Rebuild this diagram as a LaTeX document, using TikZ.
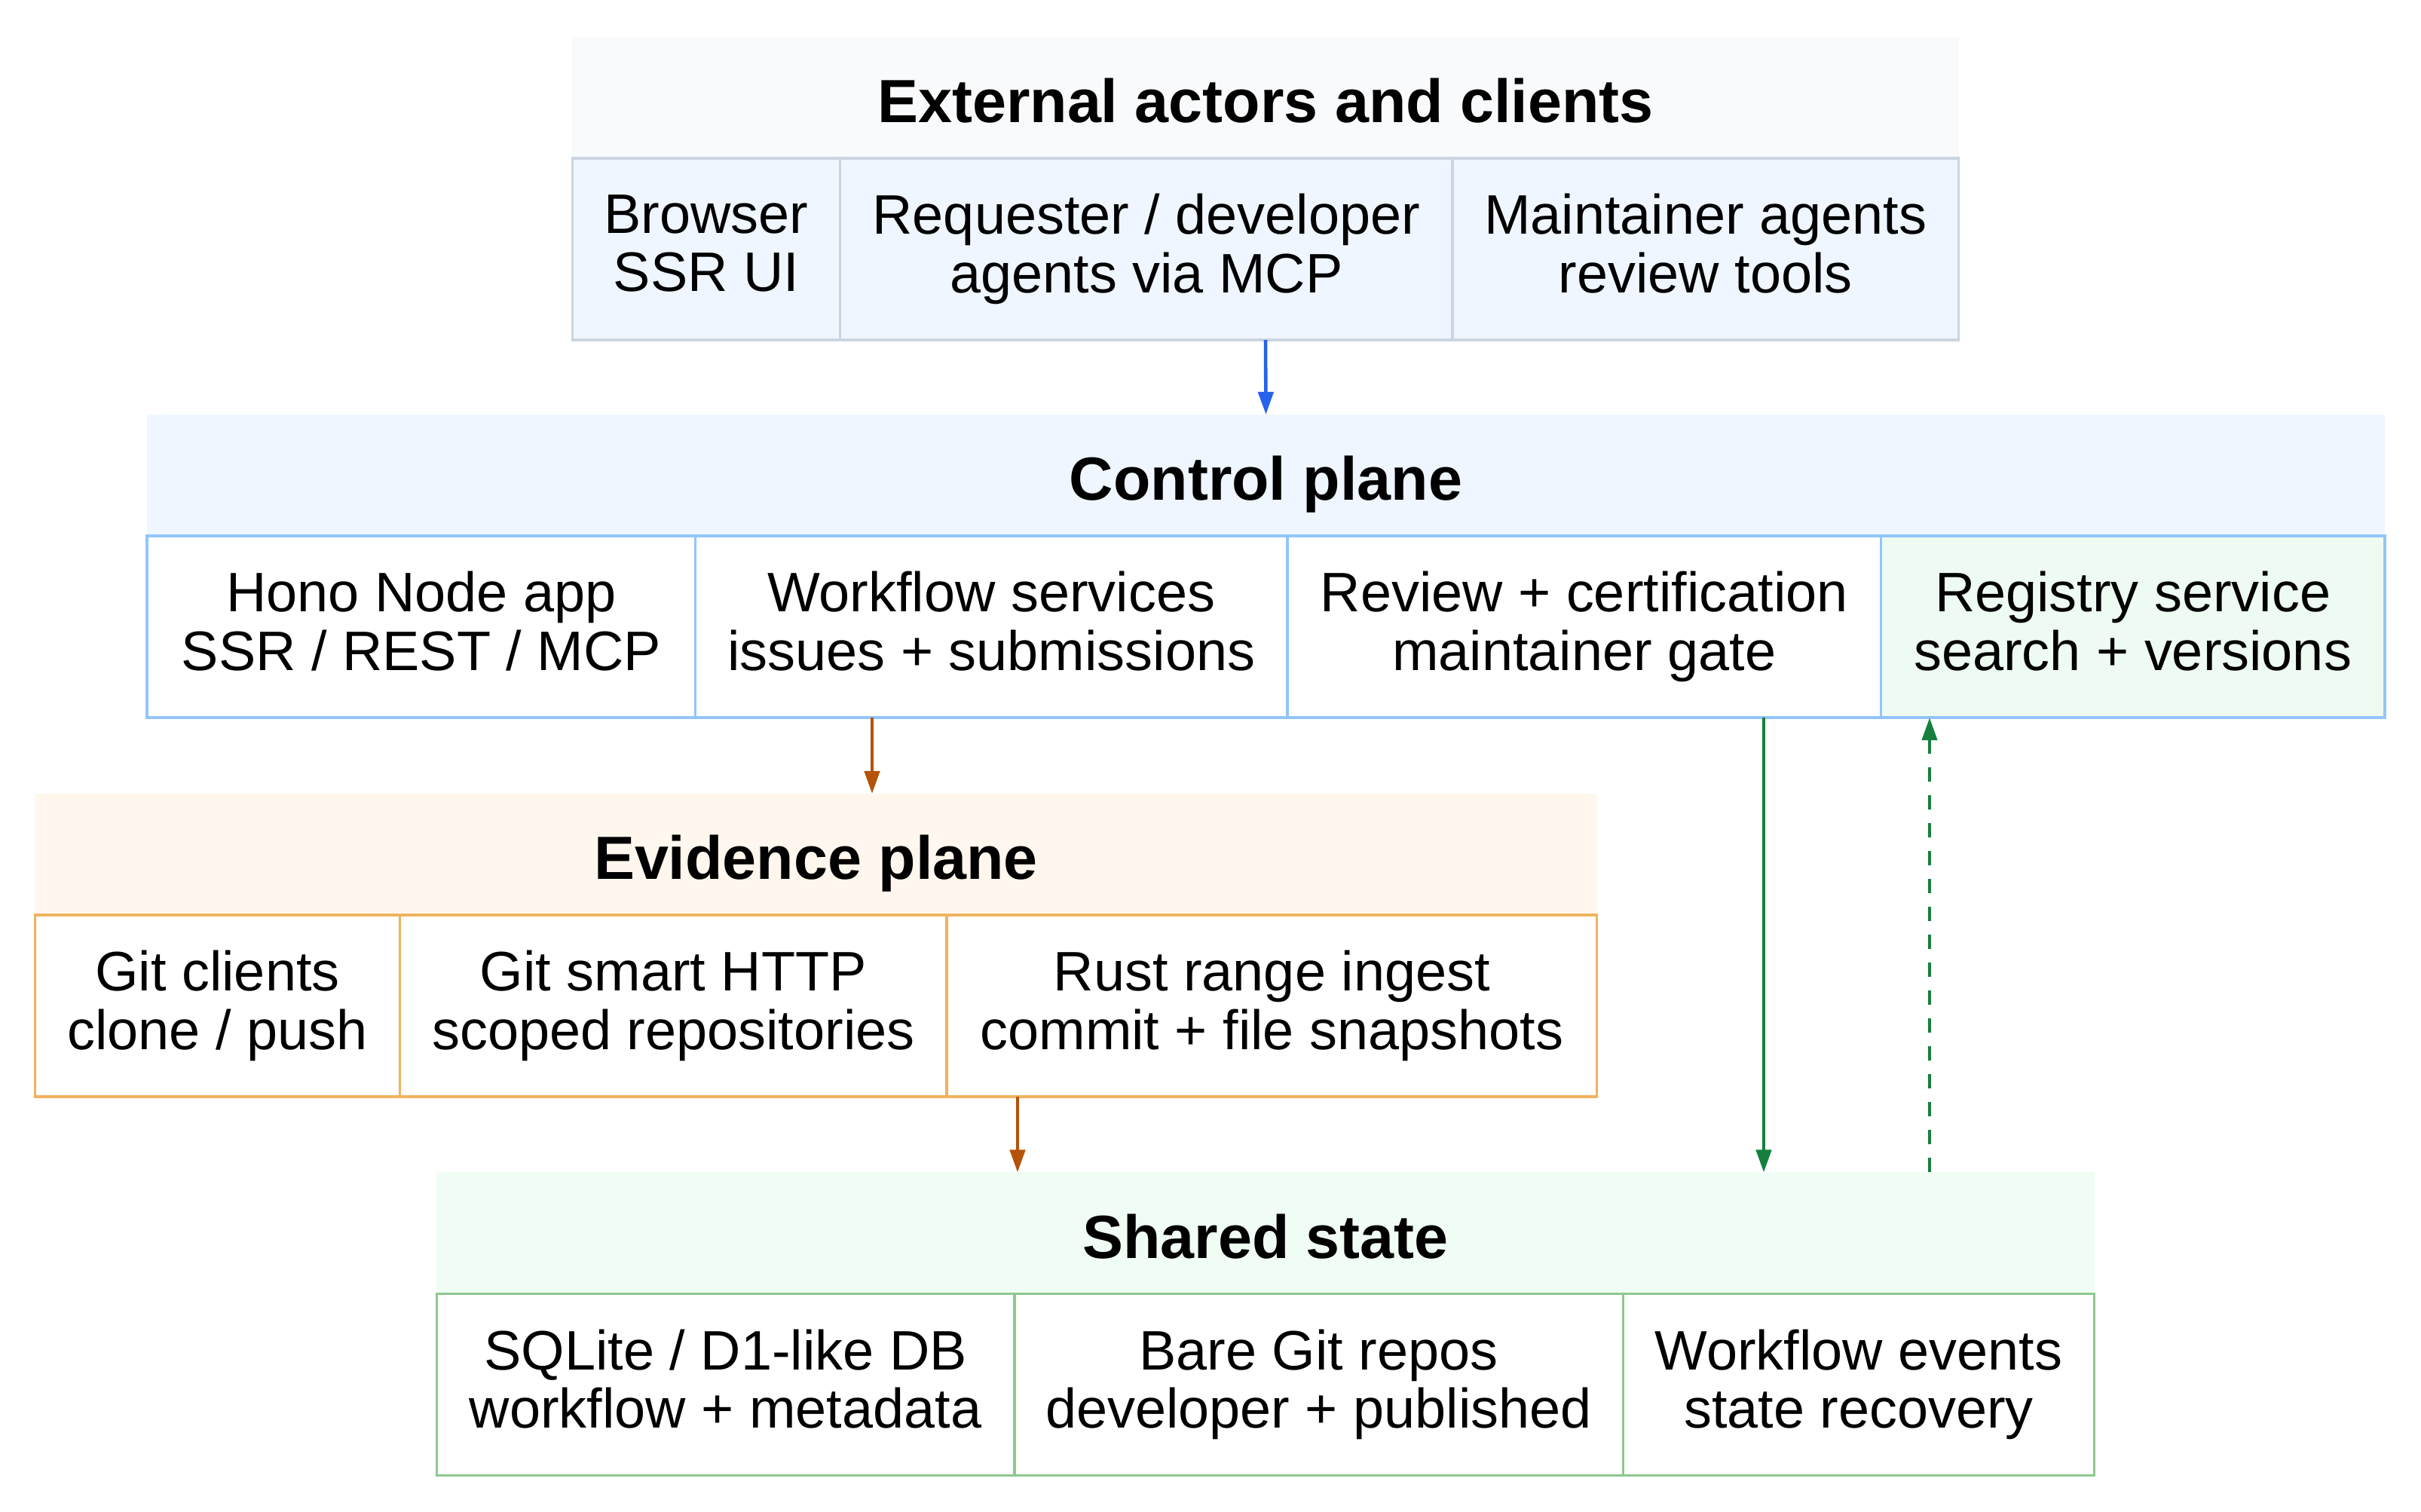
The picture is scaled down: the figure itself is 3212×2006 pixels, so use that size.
\documentclass[tikz,border=0pt]{standalone}
\usepackage{fontspec}
\setmainfont{Liberation Sans}
\usepackage{tikz}
\usetikzlibrary{positioning}
\usetikzlibrary{arrows.meta}

\definecolor{extband}{HTML}{F8FAFC}
\definecolor{extcell}{HTML}{EFF6FF}
\definecolor{extline}{HTML}{CBD5E1}
\definecolor{ctlband}{HTML}{EFF6FF}
\definecolor{ctlline}{HTML}{93C5FD}
\definecolor{regfill}{HTML}{EEFBF2}
\definecolor{eviband}{HTML}{FFF7ED}
\definecolor{eviline}{HTML}{F0B35F}
\definecolor{shrband}{HTML}{F0FDF4}
\definecolor{shrline}{HTML}{8DC891}
\definecolor{arrblue}{HTML}{2563EB}
\definecolor{arrbrown}{HTML}{B45309}
\definecolor{arrgreen}{HTML}{15803D}

\begin{document}
\begin{tikzpicture}[x=0.01cm, y=-0.01cm,
    band/.style={inner sep=0pt, outer sep=0pt, minimum height=1.61cm,
      text height=19pt, text depth=0pt,
      font=\fontsize{23}{27}\selectfont\bfseries},
    cell/.style={draw, line width=1pt, inner sep=0pt, outer sep=0pt,
      minimum height=2.41cm, align=center,
      execute at begin node={\rule{0pt}{23pt}},
      execute at end node={\rule[-4.5pt]{0pt}{4.5pt}},
      font=\fontsize{21}{22}\selectfont},
    flow/.style={line width=1.3pt, -{Triangle[length=0.3cm, width=0.2cm]}}]

	\useasboundingbox (0,0) rectangle (3212,2006);

	% External actors and clients
	\node[band, fill=extband, minimum width=18.38cm] (exttitle) at (1679,129.5) {External actors and clients};
	\node[cell, draw=extline, fill=extcell, minimum width=3.55cm, anchor=north west] (browser) at (exttitle.south west) {Browser\\SSR UI};
	\node[cell, draw=extline, fill=extcell, minimum width=8.12cm, right=0pt of browser] (requester) {Requester / developer\\agents via MCP};
	\node[cell, draw=extline, fill=extcell, minimum width=6.71cm, right=0pt of requester] (maint) {Maintainer agents\\review tools};

	% Control plane
	\node[band, fill=ctlband, minimum width=29.67cm] (ctltitle) at (1679.5,630.5) {Control plane};
	\node[cell, draw=ctlline, fill=white, minimum width=7.27cm, anchor=north west] (hono) at (ctltitle.south west) {Hono Node app\\SSR / REST / MCP};
	\node[cell, draw=ctlline, fill=white, minimum width=7.85cm, right=0pt of hono] (wf) {Workflow services\\issues + submissions};
	\node[cell, draw=ctlline, fill=white, minimum width=7.87cm, right=0pt of wf] (review) {Review + certification\\maintainer gate};
	\node[cell, draw=ctlline, fill=regfill, minimum width=6.68cm, right=0pt of review] (registry) {Registry service\\search + versions};

	% Evidence plane
	\node[band, fill=eviband, minimum width=20.71cm] (evititle) at (1082.5,1133.5) {Evidence plane};
	\node[cell, draw=eviline, fill=white, minimum width=4.84cm, anchor=north west] (gitcli) at (evititle.south west) {Git clients\\clone / push};
	\node[cell, draw=eviline, fill=white, minimum width=7.25cm, right=0pt of gitcli] (smart) {Git smart HTTP\\scoped repositories};
	\node[cell, draw=eviline, fill=white, minimum width=8.62cm, right=0pt of smart] (ingest) {Rust range ingest\\commit + file snapshots};

	% Shared state
	\node[band, fill=shrband, minimum width=21.98cm] (shrtitle) at (1679,1636) {Shared state};
	\node[cell, draw=shrline, fill=white, minimum width=7.66cm, anchor=north west] (db) at (shrtitle.south west) {SQLite / D1-like DB\\workflow + metadata};
	\node[cell, draw=shrline, fill=white, minimum width=8.07cm, right=0pt of db] (bare) {Bare Git repos\\developer + published};
	\node[cell, draw=shrline, fill=white, minimum width=6.25cm, right=0pt of bare] (events) {Workflow events\\state recovery};

	% x positions of the connectors
	\coordinate (d1) at (1157,0);
	\coordinate (d2) at (1350,0);
	\coordinate (d3) at (2340,0);
	\coordinate (d4) at (2560,0);

	\draw[flow, arrblue] (requester.south -| exttitle) -- (ctltitle.north);
	\draw[flow, arrbrown] (wf.south -| d1) -- (evititle.north -| d1);
	\draw[flow, arrbrown] (ingest.south -| d2) -- (shrtitle.north -| d2);
	\draw[flow, arrgreen] (review.south -| d3) -- (shrtitle.north -| d3);
	\draw[flow, arrgreen, dash pattern=on 0.19cm off 0.18cm] (shrtitle.north -| d4) -- (registry.south -| d4);

\end{tikzpicture}
\end{document}
